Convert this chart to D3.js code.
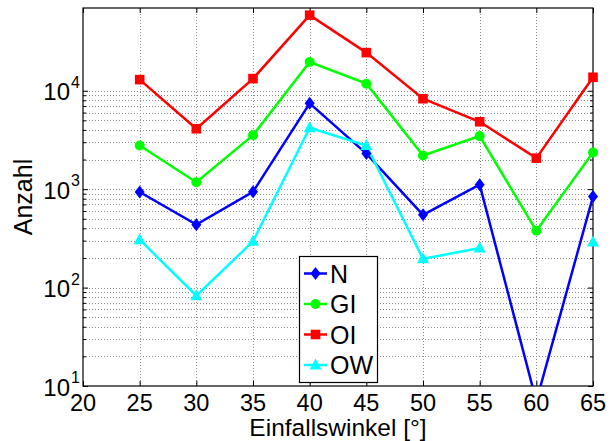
<!DOCTYPE html>
<html>
<head>
<meta charset="utf-8">
<script src="https://cdn.jsdelivr.net/npm/d3@7"></script>
<style>
  body { margin: 0; background: #fff; }
  svg { display: block; }
  text { font-family: "Liberation Sans", Arial, Helvetica, sans-serif; fill: #000; }
</style>
</head>
<body>
<svg id="chart" width="611" height="441"></svg>
<script>
// ---- data ----
const angles = [25, 30, 35, 40, 45, 50, 55, 60, 65];
const seriesN  = [935, 436, 940, 7450, 2300, 548, 1110, 7, 841];
const seriesGI = [2780, 1175, 3540, 19600, 11800, 2200, 3460, 379, 2360];
const seriesOI = [12970, 4110, 13280, 58600, 24400, 8300, 4840, 2065, 13700];
const seriesOW = [307, 82.6, 295, 4210, 2780, 196, 252, null, 290];
const seriesNames = ["N", "GI", "OI", "OW"];
const seriesColors = ["#0000ff", "#00ff00", "#ff0000", "#00ffff"];
const seriesMarkers = ["diamond", "circle", "square", "triangle"];
const xTicks = [20, 25, 30, 35, 40, 45, 50, 55, 60, 65];
const yMajorExp = [1, 2, 3, 4];
const xLabel = "Einfallswinkel [°]";
const yLabel = "Anzahl";

const svg = d3.select("#chart");
const L = 83, R = 593, T = 8, B = 386;
const x = d3.scaleLinear().domain([20, 65]).range([L, R]);
const y = d3.scaleLog().domain([10, 69300]).range([B, T]);

// grid
const grid = svg.append("g").attr("stroke", "#8c8c8c").attr("stroke-width", 1)
  .attr("stroke-dasharray", "1,2");
xTicks.filter(t => t > 20 && t < 65).forEach(t => {
  grid.append("line").attr("x1", Math.round(x(t)) + 0.5).attr("x2", Math.round(x(t)) + 0.5)
    .attr("y1", T).attr("y2", B);
});
const yGridVals = [];
for (let e = 1; e <= 3; e++) for (let m = 1; m <= 9; m++) yGridVals.push(m * Math.pow(10, e));
yGridVals.push(1e4);
yGridVals.filter(v => v > 10).forEach(v => {
  grid.append("line").attr("x1", L).attr("x2", R)
    .attr("y1", Math.round(y(v)) + 0.5).attr("y2", Math.round(y(v)) + 0.5);
});

// axes via d3
const xAxisB = d3.axisBottom(x).tickValues(xTicks).tickSize(-5).tickFormat("");
const xAxisT = d3.axisTop(x).tickValues(xTicks).tickSize(-5).tickFormat("");
svg.append("g").attr("transform", `translate(0,${B})`).call(xAxisB);
svg.append("g").attr("transform", `translate(0,${T})`).call(xAxisT);
const yAxisL = d3.axisLeft(y).tickValues(yGridVals.filter(v => v >= 10)).tickSize(-3).tickFormat("");
const yAxisR = d3.axisRight(y).tickValues(yGridVals.filter(v => v >= 10)).tickSize(-3).tickFormat("");
const gL = svg.append("g").attr("transform", `translate(${L},0)`).call(yAxisL);
const gR = svg.append("g").attr("transform", `translate(${R},0)`).call(yAxisR);
[gL, gR].forEach((g, i) => {
  g.selectAll(".tick line").attr("x2", (d) => {
    const major = Math.abs(Math.log10(d) - Math.round(Math.log10(d))) < 1e-9;
    const len = major ? 5 : 3;
    return i === 0 ? len : -len;
  });
});
svg.selectAll(".domain").remove();
svg.selectAll(".tick line").attr("stroke", "#000").attr("stroke-width", 1);
svg.append("rect").attr("x", L).attr("y", T).attr("width", R - L).attr("height", B - T)
  .attr("fill", "none").attr("stroke", "#000").attr("stroke-width", 1.2);

// tick labels
xTicks.forEach(t => {
  svg.append("text").attr("x", x(t)).attr("y", 410.5).attr("text-anchor", "middle")
    .attr("font-size", 23.5).text(t);
});
yMajorExp.forEach(e => {
  const yy = y(Math.pow(10, e));
  svg.append("text").attr("x", 70).attr("y", yy + 9.5).attr("text-anchor", "end")
    .attr("font-size", 24).text("10");
  svg.append("text").attr("x", 71).attr("y", yy - 3).attr("text-anchor", "start")
    .attr("font-size", 16).text(e);
});

// axis labels
svg.append("text").attr("x", (L + R) / 2).attr("y", 435.5).attr("text-anchor", "middle")
  .attr("font-size", 24.5).text(xLabel);
svg.append("text").attr("transform", `translate(32,${(T + B) / 2}) rotate(-90)`)
  .attr("text-anchor", "middle").attr("font-size", 25).text(yLabel);

// clip
svg.append("defs").append("clipPath").attr("id", "clip")
  .append("rect").attr("x", L).attr("y", T).attr("width", R - L).attr("height", B - T);

function markerPath(type) {
  if (type === "diamond") return "M0,-6.5L5,0L0,6.5L-5,0Z";
  if (type === "circle") return d3.symbol(d3.symbolCircle, 78)();
  if (type === "square") return "M-4.8,-4.8H4.8V4.8H-4.8Z";
  return "M0,-6.5L6,4.5L-6,4.5Z";
}

const allSeries = [seriesN, seriesGI, seriesOI, seriesOW];
const plot = svg.append("g").attr("clip-path", "url(#clip)");
allSeries.forEach((vals, i) => {
  const pts = angles.map((a, j) => ({ a, v: vals[j] }));
  const line = d3.line().defined(d => d.v != null).x(d => x(d.a)).y(d => y(d.v));
  plot.append("path").attr("d", line(pts)).attr("fill", "none")
    .attr("stroke", seriesColors[i]).attr("stroke-width", 2.5).attr("stroke-linejoin", "miter");
  svg.append("g").selectAll(null).data(pts.filter(d => d.v != null && d.v >= 10)).enter().append("path")
    .attr("transform", d => `translate(${x(d.a)},${y(d.v)})`)
    .attr("d", markerPath(seriesMarkers[i])).attr("fill", seriesColors[i]);
});

// legend
const lg = svg.append("g");
lg.append("rect").attr("x", 299.5).attr("y", 256.5).attr("width", 78).attr("height", 126)
  .attr("fill", "#fff").attr("stroke", "#000").attr("stroke-width", 1.2);
const legY = [273.5, 304, 334.5, 365];
seriesNames.forEach((n, i) => {
  lg.append("line").attr("x1", 304).attr("x2", 327).attr("y1", legY[i]).attr("y2", legY[i])
    .attr("stroke", seriesColors[i]).attr("stroke-width", 2.5);
  lg.append("path").attr("transform", `translate(315.5,${legY[i]})`)
    .attr("d", markerPath(seriesMarkers[i])).attr("fill", seriesColors[i]);
  lg.append("text").attr("x", 330).attr("y", legY[i] + 9).attr("font-size", 25).text(n);
});
</script>
</body>
</html>
